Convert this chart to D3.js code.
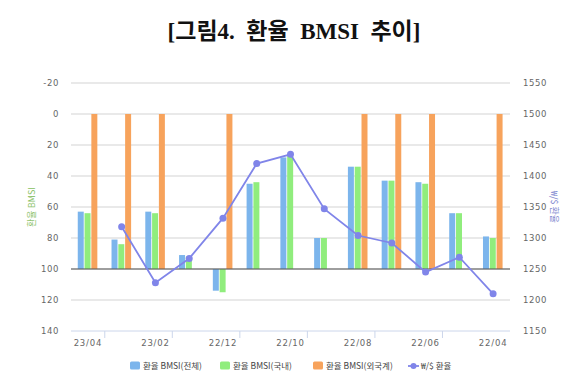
<!DOCTYPE html>
<html>
<head>
<meta charset="utf-8">
<script src="https://cdn.jsdelivr.net/npm/d3@7"></script>
<style>
  html, body { margin: 0; padding: 0; background: #fff; }
  svg { display: block; }
</style>
</head>
<body>
<svg id="chart" width="580" height="382"></svg>
<script>
// ---- data ----
const categories = ["23/04","23/03","23/02","23/01","22/12","22/11","22/10","22/09","22/08","22/07","22/06","22/05","22/04"];
const bmsiTotal   = [63, 81, 63, 91, 114, 45, 28, 80, 34, 43, 44, 64, 79];
const bmsiDomestic= [64, 84, 64, 92, 115, 44, 27, 80, 34, 43, 45, 64, 80];
const bmsiForeign = [0, 0, 0, null, 0, null, null, null, 0, 0, 0, null, 0];
const fxRate      = [null, 1318, 1228, 1267, 1332, 1420, 1435, 1347, 1304, 1292, 1245, 1269, 1210];
const leftTicks  = [-20, 0, 20, 40, 60, 80, 100, 120, 140];
const rightTicks = [1550, 1500, 1450, 1400, 1350, 1300, 1250, 1200, 1150];
const seriesNames = ["환율 BMSI(전체)", "환율 BMSI(국내)", "환율 BMSI(외국계)", "₩/$ 환율"];
const colors = ["#7cb5ec", "#90ed7d", "#f7a35c", "#8085e9"];
const baseline = 100;

(function() {
const svg = d3.select("#chart");
const pL = 71, pR = 510, pT = 83, pB = 331;

const x0 = d3.scaleBand().domain(categories).range([pL, pR]).padding(0);
const bw = x0.bandwidth();
const x1 = d3.scaleBand().domain([0,1,2]).range([bw*0.2, bw*0.78]).paddingInner(0.12);
const yL = d3.scaleLinear().domain([-20, 140]).range([pT, pB]);
const yR = d3.scaleLinear().domain([1550, 1150]).range([pT, pB]);

// title
svg.append("text")
  .attr("x", 294).attr("y", 39)
  .attr("text-anchor", "middle")
  .attr("font-family", "'Liberation Serif', 'Noto Sans CJK KR', serif")
  .attr("font-weight", "bold")
  .attr("font-size", 23)
  .attr("fill", "#111")
  .style("white-space", "pre")
  .text("[그림4.  환율  BMSI  추이]");

// gridlines
svg.append("g").selectAll("line").data(leftTicks.filter(t => t !== 140)).join("line")
  .attr("x1", pL).attr("x2", pR)
  .attr("y1", d => yL(d)).attr("y2", d => yL(d))
  .attr("stroke", "#e2e2e2").attr("stroke-width", 1.3);

const axisFont = "'DejaVu Sans', sans-serif";
svg.append("g").selectAll("text").data(leftTicks).join("text")
  .attr("x", 59).attr("y", d => yL(d) + 3)
  .attr("text-anchor", "end")
  .attr("font-family", axisFont).attr("font-size", 8.5)
  .attr("fill", "#666").attr("letter-spacing", 0.6)
  .text(d => d);

svg.append("g").selectAll("text").data(rightTicks).join("text")
  .attr("x", 523).attr("y", d => yR(d) + 3)
  .attr("text-anchor", "start")
  .attr("font-family", axisFont).attr("font-size", 8.5)
  .attr("fill", "#666").attr("letter-spacing", 0.6)
  .text(d => d);

svg.append("text")
  .attr("transform", `translate(35,${(pT+pB)/2}) rotate(-90)`)
  .attr("text-anchor", "middle")
  .attr("font-family", "'Noto Sans CJK KR', sans-serif").attr("font-size", 9)
  .attr("fill", "#8fc46f")
  .text("환율 BMSI");
svg.append("text")
  .attr("transform", `translate(551,${(pT+pB)/2}) rotate(90)`)
  .attr("text-anchor", "middle")
  .attr("font-family", "'Noto Sans CJK KR', sans-serif").attr("font-size", 9)
  .attr("fill", "#7f89cf")
  .text("₩/$ 환율");

svg.append("line")
  .attr("x1", pL).attr("x2", pR).attr("y1", pB).attr("y2", pB)
  .attr("stroke", "#ccd6eb").attr("stroke-width", 1);
const tickIdx = d3.range(1, categories.length, 2);
svg.append("g").selectAll("line").data(tickIdx).join("line")
  .attr("x1", i => x0(categories[i])).attr("x2", i => x0(categories[i]))
  .attr("y1", pB).attr("y2", pB + 7)
  .attr("stroke", "#ccd6eb");
svg.append("g").selectAll("text").data(categories.filter((c,i) => i % 2 === 0)).join("text")
  .attr("x", d => x0(d) + bw/2).attr("y", pB + 15)
  .attr("text-anchor", "middle")
  .attr("font-family", axisFont).attr("font-size", 8.5)
  .attr("fill", "#666").attr("letter-spacing", 0.8)
  .text(d => d);

const barSeries = [bmsiTotal, bmsiDomestic, bmsiForeign];
barSeries.forEach((vals, s) => {
  svg.append("g").selectAll("rect")
    .data(vals.map((v,i) => ({v, c: categories[i]})).filter(d => d.v !== null))
    .join("rect")
    .attr("x", d => x0(d.c) + x1(s))
    .attr("width", x1.bandwidth())
    .attr("y", d => Math.min(yL(d.v), yL(baseline)))
    .attr("height", d => Math.abs(yL(d.v) - yL(baseline)))
    .attr("fill", colors[s]);
});

svg.append("line")
  .attr("x1", pL).attr("x2", pR)
  .attr("y1", yL(baseline)).attr("y2", yL(baseline))
  .attr("stroke", "#555").attr("stroke-width", 1.2);

const pts = fxRate.map((v,i) => ({v, c: categories[i]})).filter(d => d.v !== null);
const line = d3.line().x(d => x0(d.c) + bw/2).y(d => yR(d.v));
svg.append("path").datum(pts)
  .attr("d", line).attr("fill", "none")
  .attr("stroke", colors[3]).attr("stroke-width", 1.8);
svg.append("g").selectAll("circle").data(pts).join("circle")
  .attr("cx", d => x0(d.c) + bw/2).attr("cy", d => yR(d.v))
  .attr("r", 3.5).attr("fill", colors[3]);

const legendX = [130, 220, 313, 408];
const legY = 366;
const lg = svg.append("g");
seriesNames.forEach((name, i) => {
  if (i < 3) {
    lg.append("rect").attr("x", legendX[i]).attr("y", legY - 4.5)
      .attr("width", 10).attr("height", 8).attr("rx", 1.5)
      .attr("fill", colors[i]);
  } else {
    lg.append("line").attr("x1", legendX[i]).attr("x2", legendX[i] + 11)
      .attr("y1", legY).attr("y2", legY)
      .attr("stroke", colors[i]).attr("stroke-width", 1.8);
    lg.append("circle").attr("cx", legendX[i] + 5.5).attr("cy", legY).attr("r", 3)
      .attr("fill", colors[i]);
  }
  lg.append("text").attr("x", legendX[i] + 13).attr("y", legY + 3)
    .attr("font-family", "'Noto Sans CJK KR', sans-serif").attr("font-size", 8.5)
    .attr("fill", "#444")
    .text(name);
});
})();
</script>
</body>
</html>
